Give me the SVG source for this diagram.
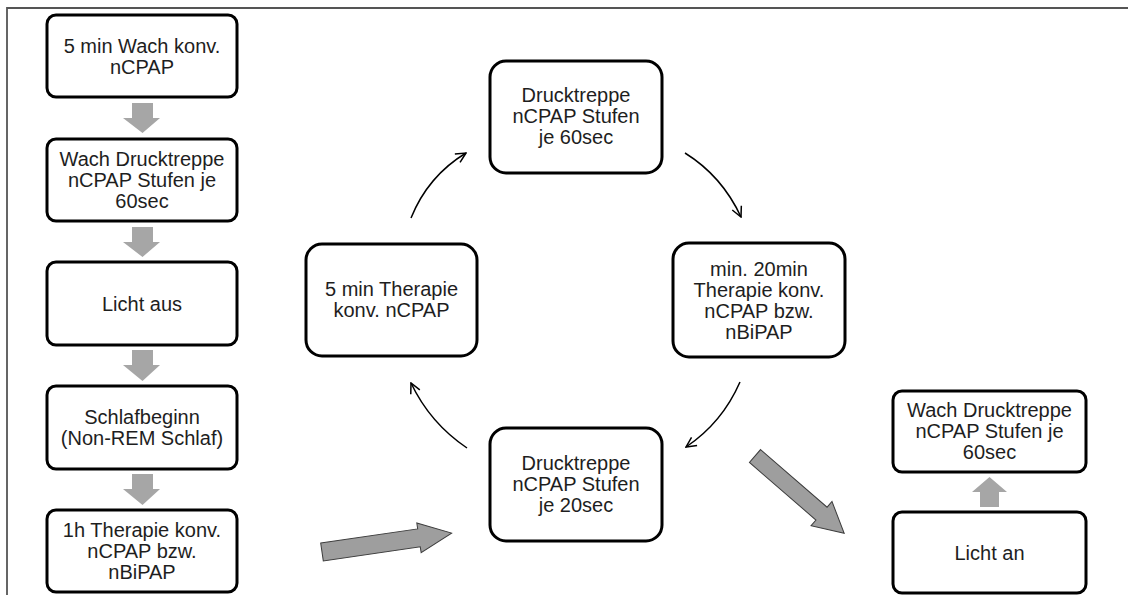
<svg xmlns="http://www.w3.org/2000/svg" width="1128" height="595" viewBox="0 0 1128 595">
<style>
.box{fill:#fff;stroke:#000;stroke-width:3}
.t{font-family:"Liberation Sans",Arial,sans-serif;font-size:20px;fill:#1e1e1e;text-anchor:middle}
.down{fill:#a6a6a6}
.big{fill:#9e9e9e;stroke:#3c3c3c;stroke-width:1}
.cur{fill:none;stroke:#000;stroke-width:1.5;marker-end:url(#ah)}
</style>
<defs>
<marker id="ah" viewBox="0 0 12 12" refX="11" refY="6" markerUnits="userSpaceOnUse" markerWidth="12" markerHeight="12" orient="auto">
<path d="M1,1 L11,6 L1,11" fill="none" stroke="#000" stroke-width="1.5"/>
</marker>
</defs>
<rect width="1128" height="595" fill="#fff"/>
<path d="M7,595 V8 H1128" fill="none" stroke="#555" stroke-width="1.8"/>

<g id="connectors">
<polygon class="down" points="132,103 153,103 153,118 160,118 142.5,133 123,118 132,118"/>
<polygon class="down" points="132,227 153,227 153,242 160,242 142.5,257 123,242 132,242"/>
<polygon class="down" points="132,350 153,350 153,365 160,365 142.5,381 123,365 132,365"/>
<polygon class="down" points="132,474 153,474 153,489 160,489 142.5,505 123,489 132,489"/>
<polygon class="down" points="980,507 999,507 999,492 1007,492 989.5,477 972,492 980,492"/>
<polygon class="big" transform="translate(322,552) rotate(-8.3)" points="0,-9 98,-9 98,-15 131,0 98,15 98,9 0,9"/>
<polygon class="big" transform="translate(755,456) rotate(40.9)" points="0,-8.5 88,-8.5 88,-16 118,0 88,16 88,8.5 0,8.5"/>
<path class="cur" d="M411,218 Q428,176 466,153"/>
<path class="cur" d="M685,153 Q722,176 741,217"/>
<path class="cur" d="M740,382 Q722,423 686,447"/>
<path class="cur" d="M467,448 Q430,423 411,383"/>
</g>

<g id="n1"><rect class="box" x="47" y="15" width="190" height="82" rx="9"/>
<text class="t" x="142" y="52.5">5 min Wach konv.</text><text class="t" x="142" y="73.5">nCPAP</text></g>
<g id="n2"><rect class="box" x="47" y="139" width="190" height="82" rx="9"/>
<text class="t" x="142" y="166">Wach Drucktreppe</text><text class="t" x="142" y="187">nCPAP Stufen je</text><text class="t" x="142" y="208">60sec</text></g>
<g id="n3"><rect class="box" x="47" y="262" width="190" height="83" rx="9"/>
<text class="t" x="142" y="311">Licht aus</text></g>
<g id="n4"><rect class="box" x="47" y="386" width="190" height="83" rx="9"/>
<text class="t" x="142" y="424">Schlafbeginn</text><text class="t" x="142" y="445">(Non-REM Schlaf)</text></g>
<g id="n5"><rect class="box" x="47" y="510" width="190" height="82" rx="9"/>
<text class="t" x="142" y="537">1h Therapie konv.</text><text class="t" x="142" y="558">nCPAP bzw.</text><text class="t" x="142" y="579">nBiPAP</text></g>

<g id="n6"><rect class="box" x="490" y="61" width="172" height="112" rx="16"/>
<text class="t" x="576" y="102">Drucktreppe</text><text class="t" x="576" y="123">nCPAP Stufen</text><text class="t" x="576" y="144">je 60sec</text></g>
<g id="n7"><rect class="box" x="673" y="243" width="172" height="114" rx="16"/>
<text class="t" x="759" y="275.5">min. 20min</text><text class="t" x="759" y="296.5">Therapie konv.</text><text class="t" x="759" y="317.5">nCPAP bzw.</text><text class="t" x="759" y="338.5">nBiPAP</text></g>
<g id="n8"><rect class="box" x="490" y="428" width="172" height="113" rx="16"/>
<text class="t" x="576" y="470">Drucktreppe</text><text class="t" x="576" y="491">nCPAP Stufen</text><text class="t" x="576" y="512">je 20sec</text></g>
<g id="n9"><rect class="box" x="306" y="244" width="171" height="112" rx="16"/>
<text class="t" x="391.5" y="296">5 min Therapie</text><text class="t" x="391.5" y="317">konv. nCPAP</text></g>

<g id="n10"><rect class="box" x="893" y="391" width="193" height="81" rx="9"/>
<text class="t" x="989.5" y="417">Wach Drucktreppe</text><text class="t" x="989.5" y="438">nCPAP Stufen je</text><text class="t" x="989.5" y="459">60sec</text></g>
<g id="n11"><rect class="box" x="893" y="512" width="193" height="81" rx="9"/>
<text class="t" x="989.5" y="560">Licht an</text></g>
</svg>
